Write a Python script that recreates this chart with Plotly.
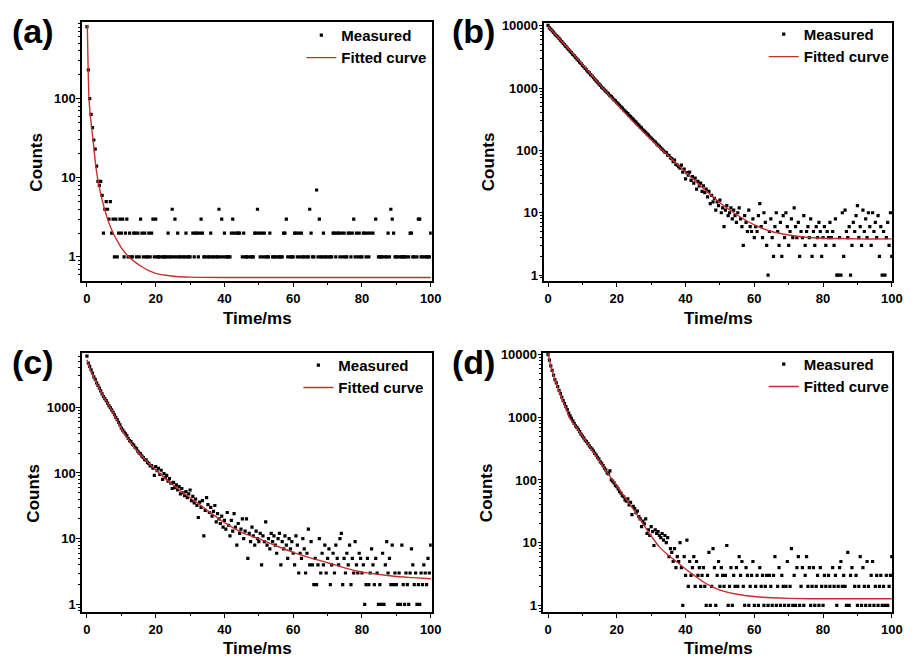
import plotly.graph_objects as go

# ---------------- data ----------------
sample_interval_ms = 0.4
n_samples = 251
time_ms = [round(sample_interval_ms * i, 1) for i in range(n_samples)]

counts_a = [810, 230, 100, 63, 43, 30, 23, 14, 9, 8, 9, 6, 2, 4, 5, 4, 3, 5, 2, 3, 1,
            3, 1, 2, 3, 2, 3, 1, 2, 3, 1,
            2, 1, 1, 2, 2, 1, 2, 1, 3, 2,
            1, 2, 1, 1, 2, 1, 2, 3, 1, 3,
            1, 1, 1, 0, 1, 1, 1, 1, 2, 1,
            1, 4, 1, 3, 1, 2, 1, 1, 0, 1,
            1, 2, 1, 1, 1, 0, 2, 1, 2, 2,
            1, 2, 3, 2, 1, 1, 0, 1, 1, 2,
            1, 1, 0, 1, 1, 4, 1, 3, 1, 2,
            1, 1, 1, 1, 2, 3, 2, 0, 2, 2,
            2, 0, 1, 2, 1, 1, 1, 0, 1, 1,
            1, 2, 2, 4, 2, 1, 2, 1, 2, 1,
            1, 1, 2, 0, 1, 1, 1, 0, 1, 1,
            1, 1, 2, 2, 3, 1, 0, 1, 1, 1,
            2, 2, 1, 2, 1, 2, 1, 1, 0, 1,
            1, 4, 2, 1, 1, 0, 7, 1, 3, 1,
            1, 2, 1, 1, 0, 1, 1, 1, 2, 2,
            1, 2, 2, 1, 2, 1, 2, 1, 1, 2,
            2, 1, 2, 3, 1, 2, 1, 2, 1, 1,
            2, 2, 1, 2, 1, 2, 0, 2, 0, 3,
            0, 1, 1, 1, 1, 0, 1, 1, 2, 1,
            4, 3, 2, 1, 1, 1, 0, 1, 1, 1,
            1, 1, 0, 1, 2, 2, 1, 1, 0, 1,
            3, 3, 1, 1, 0, 1, 1, 1, 1, 2]

counts_b = [10200, 9300, 8900, 8300, 7900, 7400, 7000, 6700, 6300, 5900, 5600,
            5250, 4950, 4700, 4400, 4180, 3930, 3720, 3500, 3320, 3120,
            2950, 2800, 2620, 2490, 2330, 2210, 2080, 1970, 1850, 1760,
            1650, 1570, 1470, 1400, 1310, 1250, 1170, 1110, 1040, 990,
            935, 900, 845, 810, 760, 730, 690, 650, 625, 585,
            560, 530, 500, 480, 450, 430, 405, 390, 365, 350,
            330, 315, 295, 285, 265, 255, 240, 230, 215, 205,
            195, 185, 176, 166, 158, 150, 142, 136, 128, 122,
            116, 110, 104, 99, 94, 92, 84, 83, 76, 74,
            66, 70, 60, 58, 55, 52, 58, 45, 50, 35,
            44, 40, 45, 33, 38, 30, 36, 24, 32, 27,
            30, 22, 27, 21, 24, 18, 22, 14, 19, 15,
            17, 11, 15, 13, 16, 10, 12, 6, 11, 13,
            9, 10, 12, 8, 11, 9, 7, 10, 12, 8,
            6, 3, 9, 7, 5, 11, 6, 5, 8, 4,
            6, 5, 9, 14, 6, 4, 10, 7, 3, 1,
            5, 8, 4, 2, 6, 10, 5, 3, 7, 2,
            9, 4, 10, 6, 3, 5, 8, 4, 12, 6,
            4, 7, 2, 5, 4, 9, 3, 5, 6, 4,
            8, 2, 5, 3, 6, 4, 7, 5, 2, 4,
            6, 3, 5, 4, 7, 4, 5, 3, 8, 1,
            1, 4, 1, 10, 2, 11, 5, 4, 6, 1,
            3, 7, 5, 9, 13, 4, 6, 3, 11, 5,
            8, 4, 10, 6, 3, 10, 5, 7, 4, 9,
            2, 6, 1, 5, 1, 4, 7, 3, 10, 2]

counts_c = [6000, 4700, 4200, 3700, 3300, 2900, 2650, 2350, 2150, 1950, 1780,
            1600, 1460, 1350, 1260, 1160, 1060, 990, 910, 840, 770,
            700, 650, 590, 540, 480, 450, 420, 395, 370, 335,
            310, 300, 275, 265, 245, 235, 215, 200, 195, 180,
            172, 160, 158, 145, 140, 128, 130, 118, 92, 125,
            108, 118, 95, 110, 80, 98, 85, 92, 75, 82,
            70, 58, 72, 60, 66, 55, 62, 48, 58, 50,
            45, 52, 42, 48, 55, 38, 44, 35, 40, 32,
            21, 36, 30, 38, 11, 27, 42, 33, 25, 30,
            22, 26, 32, 18, 24, 20, 17, 22, 15, 19,
            14, 25, 16, 11, 19, 13, 24, 15, 8, 17,
            12, 14, 20, 10, 13, 20, 5, 12, 9, 15,
            11, 8, 13, 10, 9, 12, 4, 11, 9, 18,
            8, 10, 7, 12, 9, 11, 8, 6, 10, 12,
            4, 9, 7, 11, 8, 5, 10, 7, 9, 6,
            4, 11, 8, 3, 6, 5, 10, 7, 3, 6,
            14, 4, 9, 4, 2, 5, 2, 4, 10, 3,
            6, 4, 8, 3, 5, 7, 2, 4, 6, 3,
            8, 5, 4, 10, 12, 2, 5, 3, 6, 4,
            8, 2, 5, 3, 9, 4, 3, 6, 5, 3,
            4, 1, 2, 5, 2, 3, 7, 4, 2, 5,
            3, 1, 2, 1, 6, 1, 4, 9, 3, 5,
            2, 8, 2, 3, 2, 1, 3, 1, 8, 2,
            1, 3, 2, 1, 3, 7, 4, 2, 3, 1,
            2, 1, 3, 2, 4, 3, 2, 5, 3, 8]

counts_d = [10000, 8200, 6600, 5600, 4700, 4000, 3550, 3100, 2700, 2400, 2100,
            1850, 1650, 1480, 1330, 1170, 1050, 960, 880, 800, 730,
            690, 640, 590, 540, 500, 470, 430, 410, 380, 350,
            330, 310, 290, 265, 250, 230, 215, 195, 185, 170,
            155, 145, 130, 125, 140, 100, 96, 90, 82, 78,
            72, 66, 62, 56, 54, 48, 46, 50, 40, 44,
            28, 38, 35, 30, 32, 26, 24, 18, 22, 20,
            24, 14, 16, 13, 18, 15, 9, 16, 14, 15,
            13, 12, 14, 11, 13, 10, 12, 6, 8, 7,
            5, 8, 4, 6, 5, 10, 4, 1, 6, 3,
            11, 2, 5, 3, 4, 6, 2, 5, 3, 4,
            2, 3, 4, 2, 1, 3, 7, 1, 2, 8,
            4, 1, 3, 5, 2, 4, 3, 2, 3, 9,
            1, 2, 4, 1, 3, 2, 4, 2, 6, 3,
            5, 2, 1, 4, 3, 1, 2, 3, 5, 1,
            2, 3, 1, 4, 2, 3, 1, 2, 3, 1,
            3, 2, 1, 3, 6, 1, 2, 4, 1, 3,
            2, 1, 2, 5, 1, 2, 8, 1, 3, 1,
            4, 6, 1, 2, 4, 1, 3, 6, 2, 4,
            1, 2, 4, 1, 2, 3, 1, 4, 2, 1,
            3, 2, 0, 3, 2, 0, 4, 2, 3, 1,
            2, 4, 5, 2, 3, 2, 1, 7, 1, 3,
            4, 0, 2, 3, 1, 2, 6, 1, 4, 2,
            1, 5, 2, 1, 3, 5, 1, 2, 3, 1,
            2, 3, 1, 2, 1, 3, 1, 2, 3, 6]

fit_a_t = [0.1, 0.3, 0.6, 1.0, 1.5, 2.0, 2.5, 3.0, 3.5, 4.0, 5.0, 6.0, 7.0, 8.0, 9.0, 10,
           12, 14, 16, 18, 20, 23, 26, 30, 40, 60, 80, 100]
fit_a_y = [850, 300, 100, 60, 38, 24, 15, 10.5, 8, 6.2, 4.2, 3.0, 2.3, 1.85, 1.55, 1.3,
           1.02, 0.86, 0.75, 0.67, 0.62, 0.585, 0.565, 0.555, 0.55, 0.55, 0.55, 0.55]

fit_b_t = [0, 5, 10, 15, 20, 25, 30, 35, 40, 45, 50, 55, 60, 65, 70, 75, 80, 85, 90, 100]
fit_b_y = [9800, 4900, 2400, 1150, 560, 280, 150, 82, 45, 25, 14.5, 9.2, 6.4, 5.0, 4.4,
           4.05, 3.9, 3.85, 3.8, 3.8]

fit_c_t = [0, 1, 2, 3, 5, 7, 10, 12.5, 15, 17.5, 20, 22.5, 25, 27.5, 30, 35, 40, 45, 50,
           55, 60, 65, 70, 75, 80, 85, 90, 95, 100]
fit_c_y = [5300, 3700, 2800, 2200, 1400, 950, 470, 300, 205, 150, 112, 85, 66, 52, 42, 27,
           17.5, 12.5, 10, 7.8, 6.2, 5.1, 4.3, 3.6, 3.1, 2.85, 2.65, 2.55, 2.45]

fit_d_t = [0, 0.5, 1, 2, 3, 4, 5, 6.2, 8, 10, 12.5, 15, 17.5, 20, 22.5, 25, 27.5, 30, 32.5,
           35, 37.5, 40, 42.5, 45, 47.5, 50, 55, 60, 65, 70, 80, 100]
fit_d_y = [10500, 7800, 6000, 4000, 2800, 2000, 1500, 1000, 720, 500, 320, 200, 125, 80,
           52, 33, 20.5, 12.8, 8.4, 6.3, 4.9, 3.8, 3.0, 2.4, 2.0, 1.75, 1.5, 1.38, 1.32,
           1.29, 1.27, 1.27]

panel_labels = ["(a)", "(b)", "(c)", "(d)"]
x_ticks = [0, 20, 40, 60, 80, 100]
x_minor = [10, 30, 50, 70, 90]
y_ticks = {"a": [1, 10, 100], "b": [1, 10, 100, 1000, 10000],
           "c": [1, 10, 100, 1000], "d": [1, 10, 100, 1000, 10000]}
x_title = "Time/ms"
y_title = "Counts"
legend_names = ["Measured", "Fitted curve"]

# ---------------- styling / layout ----------------
W, H = 916, 661
FONT = "Liberation Sans, Arial, sans-serif"
RED = "#C4302F"

def px_x(p):
    return p / W

def px_y(p):
    return 1 - p / H

panels = [
    dict(key="a", counts=counts_a, ft=fit_a_t, fy=fit_a_y,
         xd=[83, 437], yd=[16, 278], xr=[-1.44, 100.3], yr=[-0.30, 2.97],
         lab=(33, 25), ytit=(37, 158), xtit=(261, 316), leg=(305, 13)),
    dict(key="b", counts=counts_b, ft=fit_b_t, fy=fit_b_y,
         xd=[551, 903], yd=[17, 278], xr=[-1.06, 100.1], yr=[-0.09, 4.05],
         lab=(479, 25), ytit=(494, 158), xtit=(727, 316), leg=(773, 12)),
    dict(key="c", counts=counts_c, ft=fit_c_t, fy=fit_c_y,
         xd=[83, 437], yd=[351, 613], xr=[-1.44, 100.3], yr=[-0.11, 3.83],
         lab=(33, 360), ytit=(33, 493), xtit=(261, 650), leg=(302, 347)),
    dict(key="d", counts=counts_d, ft=fit_d_t, fy=fit_d_y,
         xd=[550, 903], yd=[351, 613], xr=[-1.35, 100.1], yr=[-0.10, 4.03],
         lab=(479, 360), ytit=(492, 493), xtit=(727, 650), leg=(773, 346)),
]

fig = go.Figure()
layout = dict(width=W, height=H, margin=dict(l=0, r=0, t=0, b=0),
              paper_bgcolor="white", plot_bgcolor="white",
              font=dict(family=FONT, color="black"), showlegend=True)
annotations = []

tick_font = dict(family=FONT, size=13, color="black", weight="bold")

for k, p in enumerate(panels, start=1):
    xa = "x" if k == 1 else f"x{k}"
    ya = "y" if k == 1 else f"y{k}"
    lg = "legend" if k == 1 else f"legend{k}"
    yvals = [v if v > 0 else None for v in p["counts"]]
    fig.add_trace(go.Scatter(x=time_ms, y=yvals, mode="markers", name=legend_names[0],
                             marker=dict(symbol="square", size=3.2, color="black",
                                         line=dict(width=0)),
                             xaxis=xa, yaxis=ya, legend=lg))
    fig.add_trace(go.Scatter(x=p["ft"], y=p["fy"], mode="lines", name=legend_names[1],
                             line=dict(color=RED, width=1.4, shape="spline", smoothing=0.8),
                             xaxis=xa, yaxis=ya, legend=lg))

    xkey = "xaxis" if k == 1 else f"xaxis{k}"
    ykey = "yaxis" if k == 1 else f"yaxis{k}"
    layout[xkey] = dict(domain=[px_x(p["xd"][0]), px_x(p["xd"][1])], anchor=ya,
                        range=p["xr"], showgrid=False, zeroline=False,
                        showline=True, linecolor="black", linewidth=1.5, mirror=True,
                        ticks="outside", ticklen=5, tickwidth=1.3, tickcolor="black",
                        tickvals=x_ticks, ticktext=[str(v) for v in x_ticks],
                        tickfont=tick_font,
                        minor=dict(tickvals=x_minor, ticks="outside", ticklen=3,
                                   tickwidth=1.1, tickcolor="black", showgrid=False))
    yt = y_ticks[p["key"]]
    minor_vals = []
    for dec in [0.1, 1, 10, 100, 1000]:
        for m in range(2, 10):
            minor_vals.append(round(dec * m, 3))
    layout[ykey] = dict(domain=[px_y(p["yd"][1]), px_y(p["yd"][0])], anchor=xa,
                        type="log", range=p["yr"], showgrid=False, zeroline=False,
                        showline=True, linecolor="black", linewidth=1.5, mirror=True,
                        ticks="outside", ticklen=4, tickwidth=1.3, tickcolor="black",
                        tickvals=yt, ticktext=[str(v) for v in yt],
                        tickfont=tick_font, ticklabelstandoff=-2,
                        minor=dict(tickvals=minor_vals, ticks="outside", ticklen=2.5,
                                   tickwidth=1.0, tickcolor="black", showgrid=False))
    layout[lg] = dict(x=px_x(p["leg"][0]), y=px_y(p["leg"][1]), xanchor="left",
                      yanchor="top", bgcolor="rgba(0,0,0,0)", borderwidth=0,
                      font=dict(family=FONT, size=15, color="black", weight="bold"),
                      tracegroupgap=0, itemsizing="trace")

    annotations.append(dict(text=panel_labels[k - 1], x=px_x(p["lab"][0]), y=px_y(p["lab"][1]),
                            xref="paper", yref="paper", showarrow=False,
                            xanchor="center", yanchor="middle",
                            font=dict(family=FONT, size=34, color="black", weight="bold")))
    annotations.append(dict(text=y_title, x=px_x(p["ytit"][0]), y=px_y(p["ytit"][1]),
                            xref="paper", yref="paper", showarrow=False, textangle=-90,
                            xanchor="center", yanchor="middle",
                            font=dict(family=FONT, size=17, color="black", weight="bold")))
    annotations.append(dict(text=x_title, x=px_x(p["xtit"][0]), y=px_y(p["xtit"][1]),
                            xref="paper", yref="paper", showarrow=False,
                            xanchor="center", yanchor="middle",
                            font=dict(family=FONT, size=17, color="black", weight="bold")))

layout["annotations"] = annotations
fig.update_layout(**layout)
fig.write_html("out.html", config={"displayModeBar": False},
               post_script="document.body.style.margin='0px';document.body.style.overflow='hidden';")
